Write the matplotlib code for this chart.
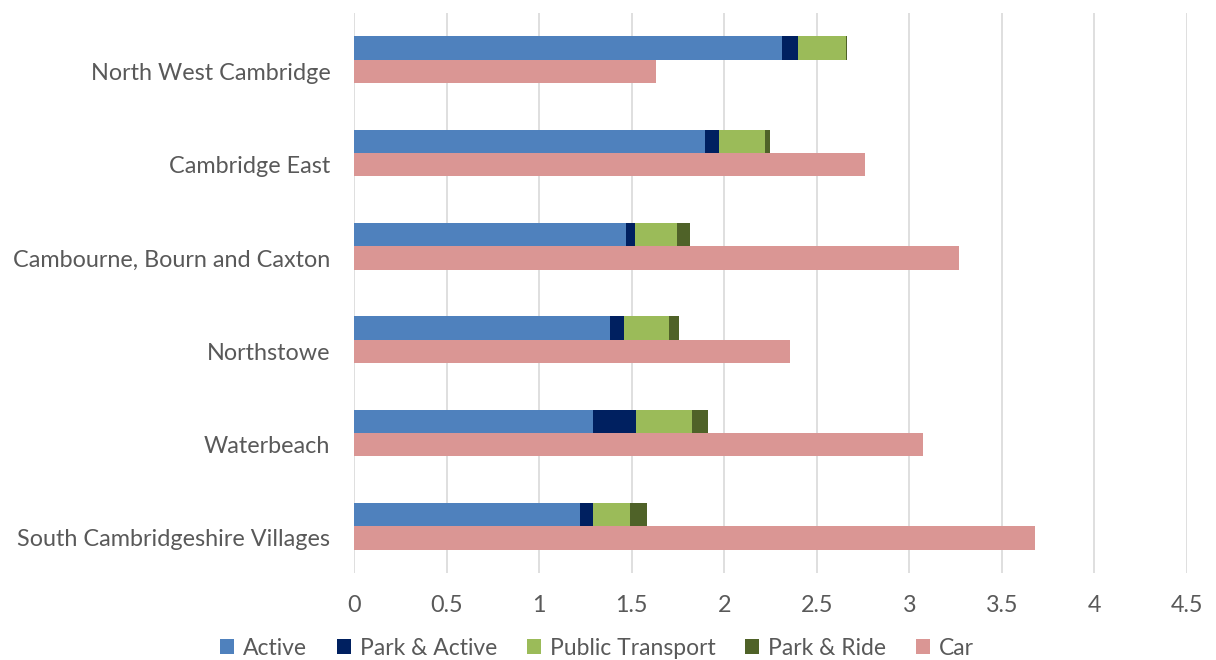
import matplotlib
matplotlib.use("Agg")
import matplotlib.pyplot as plt
import numpy as np

# categories listed top to bottom
areas = ["North West Cambridge", "Cambridge East", "Cambourne, Bourn and Caxton",
         "Northstowe", "Waterbeach", "South Cambridgeshire Villages"]
active = [2.31, 1.895, 1.47, 1.385, 1.29, 1.22]
park_active = [0.09, 0.075, 0.05, 0.075, 0.235, 0.07]
public_transport = [0.26, 0.25, 0.225, 0.24, 0.30, 0.20]
park_ride = [0.005, 0.027, 0.07, 0.056, 0.09, 0.093]
car = [1.63, 2.76, 3.27, 2.355, 3.075, 3.68]

stack = [("Active", active, "#4F81BD"),
         ("Park & Active", park_active, "#002060"),
         ("Public Transport", public_transport, "#9BBB59"),
         ("Park & Ride", park_ride, "#4F6228")]
CAR_COLOR = "#DA9694"
TXT = "#595959"

plt.rcParams["font.family"] = ["Lato", "DejaVu Sans"]

fig = plt.figure(figsize=(12.16, 6.6), dpi=100)
ax = fig.add_axes([354 / 1216, 1 - 573 / 660, (1187 - 354) / 1216, 560 / 660])

n = len(areas)
y = np.arange(n)[::-1].astype(float)
h = 0.25

left = np.zeros(n)
handles = []
for name, vals, col in stack:
    b = ax.barh(y + h / 2, vals, height=h, left=left, color=col, label=name, zorder=3)
    handles.append(b)
    left += np.array(vals)
bc = ax.barh(y - h / 2, car, height=h, color=CAR_COLOR, label="Car", zorder=3)
handles.append(bc)

ax.set_xlim(0, 4.5)
ax.set_ylim(-0.5, n - 0.5)
ax.set_xticks(np.arange(0, 4.51, 0.5))
ax.set_xticklabels(["0", "0.5", "1", "1.5", "2", "2.5", "3", "3.5", "4", "4.5"])
ax.set_yticks(y - h / 2)
ax.set_yticklabels(areas)
ax.tick_params(axis="both", length=0, labelsize=16.8, colors=TXT)
ax.tick_params(axis="x", pad=16)
ax.tick_params(axis="y", pad=17)
ax.grid(axis="x", color="#D9D9D9", lw=1.2, zorder=0)
for s in ax.spines.values():
    s.set_visible(False)

fig.legend(handles=handles, labels=[h_.get_label() for h_ in handles],
           loc="center", bbox_to_anchor=(0.491, 0.018), ncol=5, frameon=False,
           fontsize=16.5, labelcolor=TXT, handlelength=0.6, handleheight=0.6,
           handletextpad=0.4, columnspacing=1.3)

fig.savefig("out.png", dpi=100)
